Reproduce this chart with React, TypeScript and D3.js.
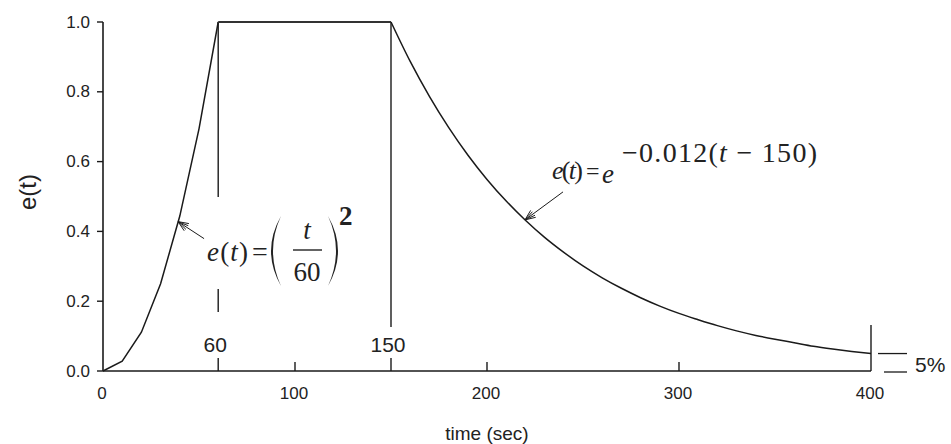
import React from "react";
import * as d3 from "d3";

const W = 951;
const H = 444;

// rise phase: e(t) = (t/60)^2 read at 10 s steps
const riseT = [0, 10, 20, 30, 40, 50, 60];
const riseE = [0, 0.028, 0.111, 0.25, 0.444, 0.694, 1.0];
// plateau
const flatT = [60, 150];
const flatE = [1.0, 1.0];
// decay phase: e(t) = exp(-0.012 (t-150))
const decayT = [150, 160, 170, 180, 190, 200, 210, 220, 230, 240, 250, 260, 270, 280, 290, 300, 310, 320, 330, 340, 350, 360, 370, 380, 390, 400];
const decayE = [1.0, 0.887, 0.787, 0.698, 0.619, 0.549, 0.487, 0.432, 0.383, 0.340, 0.301, 0.267, 0.237, 0.210, 0.186, 0.165, 0.147, 0.130, 0.115, 0.102, 0.091, 0.081, 0.071, 0.063, 0.056, 0.050];

const xTicks = [0, 100, 200, 300, 400];
const yTicks = [0, 0.2, 0.4, 0.6, 0.8, 1.0];
const markT = [60, 150];

const ink = "#1a1a1a";
const sans = "'Liberation Sans', Arial, sans-serif";
const serif = "'Liberation Serif', 'Times New Roman', serif";

export default function App() {
  const x = d3.scaleLinear().domain([0, 400]).range([103, 871]);
  const y = d3.scaleLinear().domain([0, 1]).range([371, 22]);
  const line = d3
    .line<[number, number]>()
    .x((d) => x(d[0]))
    .y((d) => y(d[1]));
  const smooth = d3
    .line<[number, number]>()
    .x((d) => x(d[0]))
    .y((d) => y(d[1]))
    .curve(d3.curveMonotoneX);

  const rise = riseT.map((t, i) => [t, riseE[i]] as [number, number]);
  const flat = flatT.map((t, i) => [t, flatE[i]] as [number, number]);
  const decay = decayT.map((t, i) => [t, decayE[i]] as [number, number]);

  const y0 = y(0);
  const endVal = decayE[decayE.length - 1];

  // arrow tips on the curves
  const tipL: [number, number] = [x(39.1), y(0.428)];
  const tailL: [number, number] = [tipL[0] + 26, tipL[1] + 17];
  const tipR: [number, number] = [x(219.8), y(0.433)];
  const tailR: [number, number] = [tipR[0] + 38, tipR[1] - 28];

  const arrowHead = (tip: [number, number], tail: [number, number]) => {
    const a = Math.atan2(tail[1] - tip[1], tail[0] - tip[0]);
    const L = 11;
    const s = 0.4;
    const pts = [s, -s, s * 0.5, -s * 0.5].map((k) => [
      tip[0] + L * Math.cos(a + k),
      tip[1] + L * Math.sin(a + k),
    ]);
    return pts.map((p) => `M${tip[0]},${tip[1]} L${p[0]},${p[1]}`).join(" ");
  };

  const x60 = x(60);
  const x150 = x(150);
  const x400 = x(400);

  return (
    <svg
      width={W}
      height={H}
      style={{ position: "absolute", left: 0, top: 0, background: "#fff" }}
    >
      <rect x={0} y={0} width={W} height={H} fill="#fff" />

      {/* axes */}
      <line x1={x(0)} x2={x(0)} y1={y(1)} y2={y0} stroke={ink} strokeWidth={1.6} />
      <line x1={x(0)} x2={x400} y1={y0} y2={y0} stroke={ink} strokeWidth={1.6} />

      {/* y ticks */}
      {yTicks.map((v) => (
        <g key={"y" + v}>
          <line x1={x(0) - 6} x2={x(0)} y1={y(v)} y2={y(v)} stroke={ink} strokeWidth={1.4} />
          <text
            x={90}
            y={y(v)}
            textAnchor="end"
            dominantBaseline="central"
            fontFamily={sans}
            fontSize={17}
            fill="#222"
          >
            {v.toFixed(1)}
          </text>
        </g>
      ))}

      {/* x ticks */}
      {xTicks.map((v) => (
        <g key={"x" + v}>
          {v > 0 && v < 400 && (
            <line x1={x(v)} x2={x(v)} y1={y0 - 9} y2={y0} stroke={ink} strokeWidth={1.4} />
          )}
          <text
            x={x(v) - 1}
            y={399}
            textAnchor="middle"
            fontFamily={sans}
            fontSize={17}
            fill="#222"
          >
            {v}
          </text>
        </g>
      ))}

      {/* marker lines at 60 and 150 */}
      <line x1={x60} x2={x60} y1={y(1)} y2={197} stroke={ink} strokeWidth={1.4} />
      <line x1={x60} x2={x60} y1={289} y2={312} stroke={ink} strokeWidth={1.4} />
      <line x1={x60} x2={x60} y1={358} y2={y0} stroke={ink} strokeWidth={1.4} />
      <line x1={x150} x2={x150} y1={y(1)} y2={327} stroke={ink} strokeWidth={1.4} />
      <line x1={x150} x2={x150} y1={358} y2={y0} stroke={ink} strokeWidth={1.4} />
      {markT.map((t) => (
        <text
          key={"m" + t}
          x={x(t) - 3}
          y={352}
          textAnchor="middle"
          fontFamily={sans}
          fontSize={21}
          fill="#222"
        >
          {t}
        </text>
      ))}

      {/* 400 marker and 5% bracket */}
      <line x1={x400} x2={x400} y1={325} y2={y0} stroke={ink} strokeWidth={1.4} />
      <line x1={x400 + 7} x2={x400 + 36} y1={y(endVal)} y2={y(endVal)} stroke={ink} strokeWidth={1.3} />
      <line x1={x400 + 13} x2={x400 + 36} y1={y0 + 1} y2={y0 + 1} stroke={ink} strokeWidth={1.3} />
      <text x={915} y={372} fontFamily={sans} fontSize={21} fill="#222">
        5%
      </text>

      {/* curves */}
      <path d={line(rise) ?? ""} fill="none" stroke={ink} strokeWidth={1.5} />
      <path d={line(flat) ?? ""} fill="none" stroke="#333" strokeWidth={2.2} />
      <path d={smooth(decay) ?? ""} fill="none" stroke={ink} strokeWidth={1.5} />

      {/* arrows */}
      <line x1={tailL[0]} y1={tailL[1]} x2={tipL[0]} y2={tipL[1]} stroke={ink} strokeWidth={1} />
      <path d={arrowHead(tipL, tailL)} fill="none" stroke={ink} strokeWidth={1} />
      <line x1={tailR[0]} y1={tailR[1]} x2={tipR[0]} y2={tipR[1]} stroke={ink} strokeWidth={1} />
      <path d={arrowHead(tipR, tailR)} fill="none" stroke={ink} strokeWidth={1} />

      {/* left formula e(t) = (t/60)^2 */}
      <g fontFamily={serif} fill="#222">
        <text x={207} y={261} fontSize={27} textLength={41} lengthAdjust="spacing">
          <tspan fontStyle="italic">e</tspan>
          <tspan>(</tspan>
          <tspan fontStyle="italic">t</tspan>
          <tspan>)</tspan>
        </text>
        <text x={252} y={261} fontSize={28}>=</text>
        <path d="M281,216 Q261,251 281,286 Q265,251 281,216 Z" fill="#222" />
        <text x={307} y={239} fontSize={27} fontStyle="italic" textAnchor="middle">t</text>
        <line x1={293} x2={322} y1={250} y2={250} stroke="#222" strokeWidth={1.4} />
        <text x={307} y={281} fontSize={27} textAnchor="middle">60</text>
        <path d="M328,216 Q348,251 328,286 Q344,251 328,216 Z" fill="#222" />
        <text x={339} y={225} fontSize={27} fontWeight="bold">2</text>
      </g>

      {/* right formula e(t) = e^{-0.012(t-150)} */}
      <g fontFamily={serif} fill="#222">
        <text x={552} y={179} fontSize={26} textLength={31} lengthAdjust="spacing">
          <tspan fontStyle="italic">e</tspan>
          <tspan>(</tspan>
          <tspan fontStyle="italic">t</tspan>
          <tspan>)</tspan>
        </text>
        <text x={586} y={179} fontSize={24}>=</text>
        <text x={602} y={183} fontSize={27} fontStyle="italic">e</text>
        <text x={622} y={162} fontSize={28} textLength={195} lengthAdjust="spacing">
          <tspan>−0.012(</tspan>
          <tspan fontStyle="italic">t</tspan>
          <tspan> − 150)</tspan>
        </text>
      </g>

      {/* axis titles */}
      <text
        x={487}
        y={440}
        textAnchor="middle"
        fontFamily={sans}
        fontSize={19}
        fill="#222"
      >
        time (sec)
      </text>
      <text
        transform={`translate(36,192) rotate(-90)`}
        textAnchor="middle"
        fontFamily={sans}
        fontSize={24}
        fill="#222"
      >
        e(t)
      </text>
    </svg>
  );
}
